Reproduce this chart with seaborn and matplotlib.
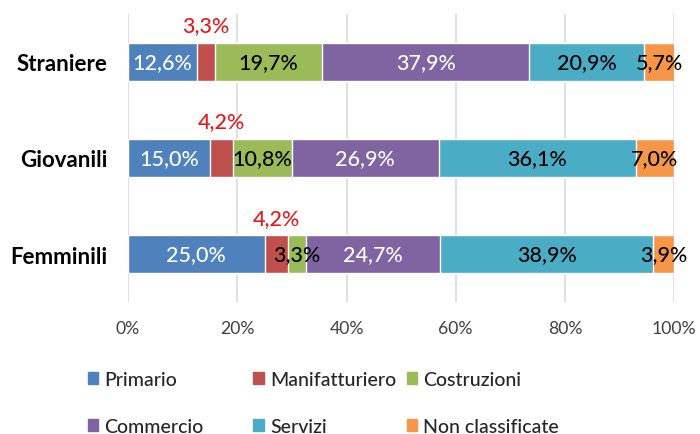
import matplotlib
matplotlib.use("Agg")
import matplotlib.pyplot as plt
import matplotlib.patches as mpatches
import numpy as np
import pandas as pd
import seaborn as sns

categories = ["Straniere", "Giovanili", "Femminili"]
sectors = ["Primario", "Manifatturiero", "Costruzioni", "Commercio", "Servizi", "Non classificate"]
primario = [12.6, 15.0, 25.0]
manifatturiero = [3.3, 4.2, 4.2]
costruzioni = [19.7, 10.8, 3.3]
commercio = [37.9, 26.9, 24.7]
servizi = [20.9, 36.1, 38.9]
non_classificate = [5.7, 7.0, 3.9]
xticks = [0, 20, 40, 60, 80, 100]

colors = ["#4F81BD", "#C0504D", "#9BBB59", "#8064A2", "#4BACC6", "#F79646"]
label_colors = ["white", "#E31A1C", "black", "white", "black", "black"]

sns.set_style("white")
plt.rcParams["font.family"] = ["Lato", "DejaVu Sans"]

df = pd.DataFrame(
    [primario, manifatturiero, costruzioni, commercio, servizi, non_classificate],
    index=sectors, columns=categories,
).T
cum = df.cumsum(axis=1)

fig = plt.figure(figsize=(7, 4.35), dpi=100)
ax = fig.add_axes([0.183, 0.303, 0.780, 0.663])

# draw cumulative bars from the last sector to the first so each overlays the next
for i in range(len(sectors) - 1, -1, -1):
    s = sectors[i]
    plot_df = pd.DataFrame({"cat": categories, "val": cum[s].values})
    sns.barplot(data=plot_df, x="val", y="cat", orient="h", color=colors[i],
                saturation=1, width=0.4, ax=ax, zorder=2)

ax.set_xlim(0, 100)
ax.set_ylim(2.5, -0.5)
ax.set_xticks(xticks)
ax.set_xticklabels([f"{t}%" for t in xticks], fontsize=12.7, color="#404040")
ax.tick_params(axis="x", length=0, pad=13)
ax.tick_params(axis="y", length=0, pad=15)
ax.set_yticks(range(len(categories)))
ax.set_yticklabels(categories, fontsize=16, fontweight="bold", color="black")
ax.set_xlabel("")
ax.set_ylabel("")
for sp in ax.spines.values():
    sp.set_visible(False)
ax.xaxis.grid(True, color="#D9D9D9", linewidth=1.2, zorder=0)
ax.set_axisbelow(True)

# data labels
for j, cat in enumerate(categories):
    left = 0
    for i, s in enumerate(sectors):
        v = df.loc[cat, s]
        txt = f"{v:.1f}%".replace(".", ",")
        xc = left + v / 2
        if s == "Manifatturiero":
            ax.text(xc, j - 0.38, txt, ha="center", va="center", fontsize=15.5,
                    color=label_colors[i], fontweight="medium", zorder=5)
        else:
            ax.text(xc, j, txt, ha="center", va="center", fontsize=15.5,
                    color=label_colors[i], fontweight="medium", zorder=5)
        left += v

# legend: three columns with fixed positions, filled row by row
col_x = [0.125, 0.362, 0.581]
for c in range(3):
    idx = [c, c + 3]
    handles = [mpatches.Patch(color=colors[k], label=sectors[k]) for k in idx]
    fig.legend(handles=handles, loc="center left", bbox_to_anchor=(col_x[c], 0.072),
               frameon=False, prop={"size": 14, "weight": "medium"},
               handlelength=0.55, handleheight=0.55,
               handletextpad=0.3, labelspacing=1.55, borderpad=0, borderaxespad=0)

fig.savefig("out.png", dpi=100)
